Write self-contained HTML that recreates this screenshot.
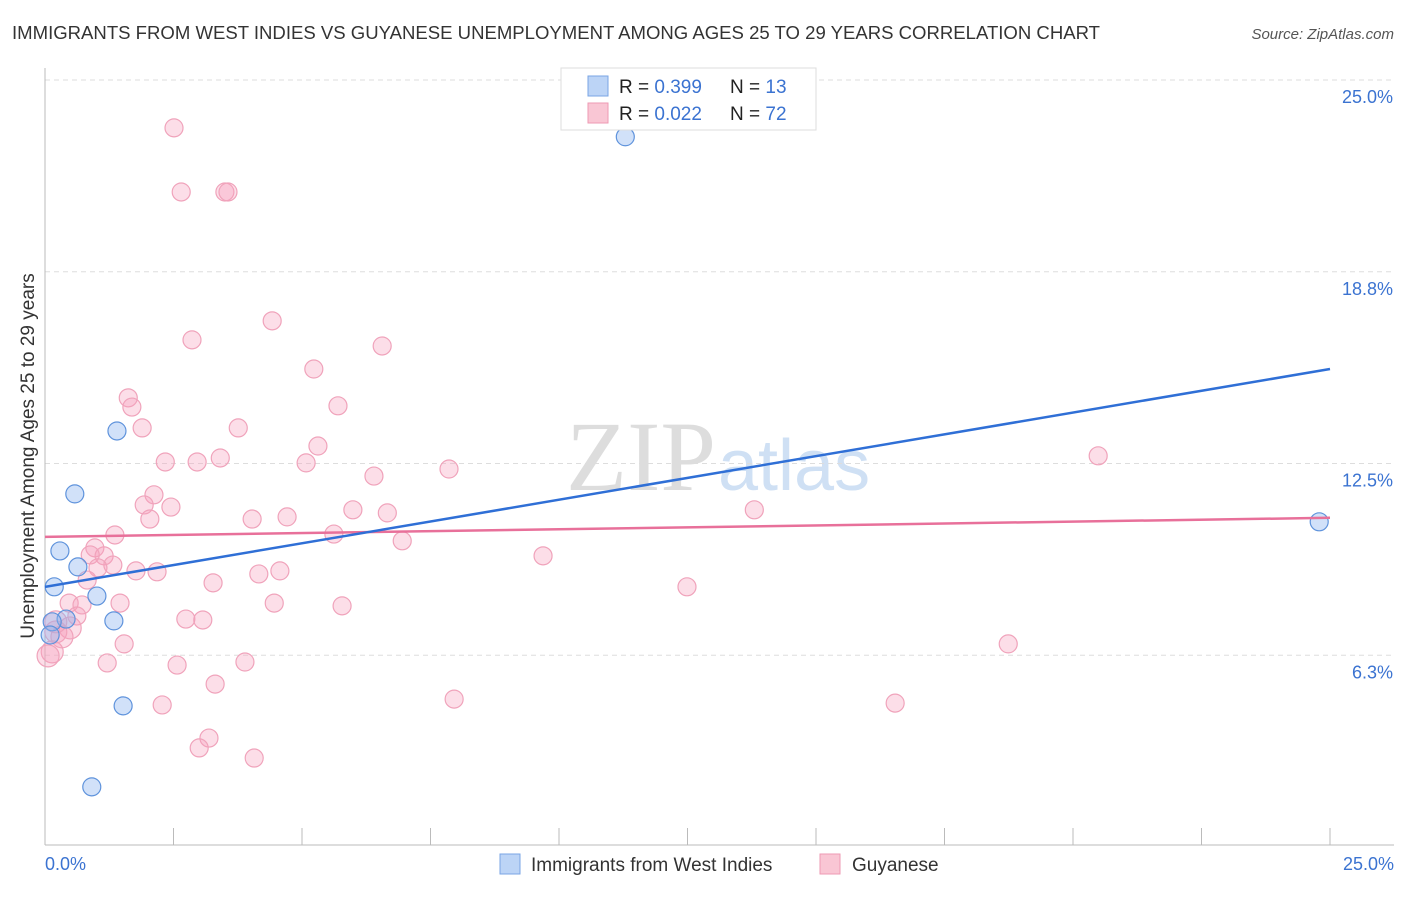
<!DOCTYPE html>
<html><head><meta charset="utf-8"><style>
body{margin:0;background:#fff;font-family:"Liberation Sans",sans-serif}
#wrap{position:relative;width:1406px;height:892px}
</style></head><body><div id="wrap">
<svg id="svg" width="1406" height="892" xmlns="http://www.w3.org/2000/svg">
<text x="12" y="39" font-size="18" fill="#333" textLength="1088" lengthAdjust="spacingAndGlyphs">IMMIGRANTS FROM WEST INDIES VS GUYANESE UNEMPLOYMENT AMONG AGES 25 TO 29 YEARS CORRELATION CHART</text>
<text x="1394" y="39" font-size="15" fill="#555" text-anchor="end" font-style="italic">Source: ZipAtlas.com</text>
<text x="716" y="490" font-size="100" fill="#ddd" text-anchor="end" font-family="Liberation Serif">ZIP</text>
<text x="718" y="490" font-size="72" fill="#cfe0f4">atlas</text>
<text transform="translate(34,456) rotate(-90)" font-size="19" fill="#333" text-anchor="middle">Unemployment Among Ages 25 to 29 years</text>
<g id="grid"></g><g id="marks"></g>
<g>
<rect x="561" y="68" width="255" height="62" fill="#fff" stroke="#ddd"/>
<rect x="588" y="76" width="20" height="20" fill="#bcd4f6" stroke="#7aa5e4"/>
<rect x="588" y="103" width="20" height="20" fill="#f9c6d4" stroke="#ee9ab3"/>
<text x="619" y="93" font-size="19" fill="#222">R = <tspan fill="#3b73d1">0.399</tspan></text>
<text x="730" y="93" font-size="19" fill="#222">N = <tspan fill="#3b73d1"> 13</tspan></text>
<text x="619" y="120" font-size="19" fill="#222">R = <tspan fill="#3b73d1">0.022</tspan></text>
<text x="730" y="120" font-size="19" fill="#222">N = <tspan fill="#3b73d1">72</tspan></text>
</g>
<g>
<rect x="500" y="854" width="20" height="20" fill="#bcd4f6" stroke="#7aa5e4"/>
<text x="531" y="871" font-size="19" fill="#333">Immigrants from West Indies</text>
<rect x="820" y="854" width="20" height="20" fill="#f9c6d4" stroke="#ee9ab3"/>
<text x="852" y="871" font-size="19" fill="#333">Guyanese</text>
</g>
</svg>
<script>
const yTicks=[6.25,12.5,18.75,25];
const yTickLabels=["6.3%","12.5%","18.8%","25.0%"];
const xTicks=[0,2.5,5,7.5,10,12.5,15,17.5,20,22.5,25];
const blueX=[11.29,1.40,0.58,0.29,0.64,0.18,1.01,1.34,0.41,0.14,1.52,0.91,24.79,0.10];
const blueY=[23.15,13.56,11.51,9.65,9.13,8.48,8.18,7.37,7.43,7.34,4.60,1.96,10.60,6.91];
const pinkX=[2.51,2.65,3.50,3.56,4.42,2.86,6.56,5.23,1.62,1.69,5.70,1.89,3.76,5.31,2.34,2.96,3.41,5.08,7.86,6.40,20.49,2.12,1.93,2.45,2.04,4.03,4.71,5.99,6.66,13.80,1.36,5.62,6.95,0.97,1.15,0.88,9.69,1.32,1.03,1.77,2.18,4.57,4.16,0.82,3.27,12.49,0.47,0.72,1.46,4.46,5.78,0.62,2.74,3.07,0.49,0.21,0.33,1.54,18.74,0.14,0.06,1.21,3.89,2.57,3.31,7.96,2.28,16.54,3.19,3.00,4.07,0.21];
const pinkY=[23.44,21.35,21.35,21.35,17.15,16.53,16.33,15.58,14.64,14.34,14.38,13.66,13.66,13.07,12.55,12.55,12.68,12.52,12.32,12.09,12.75,11.48,11.15,11.08,10.69,10.69,10.76,10.99,10.89,10.99,10.17,10.20,9.98,9.75,9.49,9.52,9.49,9.19,9.10,9.00,8.97,9.00,8.90,8.70,8.61,8.48,7.95,7.89,7.95,7.95,7.86,7.53,7.43,7.40,7.14,7.01,6.85,6.62,6.62,6.36,6.23,6.00,6.03,5.93,5.31,4.82,4.63,4.69,3.55,3.23,2.90,7.34];
const trendBlue=[8.48,15.58];
const trendPink=[10.11,10.73];
const NS="http://www.w3.org/2000/svg";
const xs=v=>45+v/25*1285, ys=v=>847-v/25*767;
function mk(tag,attrs,parent){const e=document.createElementNS(NS,tag);for(const k in attrs)e.setAttribute(k,attrs[k]);parent.appendChild(e);return e;}
const g=document.getElementById('grid'), m=document.getElementById('marks');
yTicks.forEach((t,i)=>{
 const l=mk('line',{x1:45,x2:1394,y1:ys(t),y2:ys(t),stroke:'#ddd','stroke-dasharray':'5,4'},g);
 
 
 const tx=mk('text',{x:1393,y:ys(t)+23,'font-size':18,fill:'#3b73d1','text-anchor':'end'},g);tx.textContent=yTickLabels[i];
 
 
});
const ax=mk('line',{x1:45,x2:45,y1:68,y2:845,stroke:'#bbb'},g);


const bx=mk('line',{x1:45,x2:1394,y1:845,y2:845,stroke:'#bbb'},g);


xTicks.forEach(t=>{const l=mk('line',{x1:xs(t),x2:xs(t),y1:828,y2:845,stroke:'#bbb'},g);
 
 });
const x0=mk('text',{x:45,y:870,'font-size':18,fill:'#3b73d1'},g);x0.textContent='0.0%';


const x1=mk('text',{x:1394,y:870,'font-size':18,fill:'#3b73d1','text-anchor':'end'},g);x1.textContent='25.0%';


pinkX.forEach((x,i)=>{const c=mk('circle',{cx:xs(x),cy:ys(pinkY[i]),r:(x<1&&pinkY[i]<7.5)?11:9,fill:'rgba(246,160,188,0.35)',stroke:'#f0a3bb','stroke-width':1.2},m);
 
 });
blueX.forEach((x,i)=>{const c=mk('circle',{cx:xs(x),cy:ys(blueY[i]),r:9,fill:'rgba(140,180,240,0.4)',stroke:'#5f93dc','stroke-width':1.2},m);
 
 });
const tp=mk('line',{x1:xs(0),x2:xs(25),y1:ys(trendPink[0]),y2:ys(trendPink[1]),stroke:'#e8709a','stroke-width':2.5},m);


const tb=mk('line',{x1:xs(0),x2:xs(25),y1:ys(trendBlue[0]),y2:ys(trendBlue[1]),stroke:'#2f6fd6','stroke-width':2.5},m);


</script></div></body></html>
